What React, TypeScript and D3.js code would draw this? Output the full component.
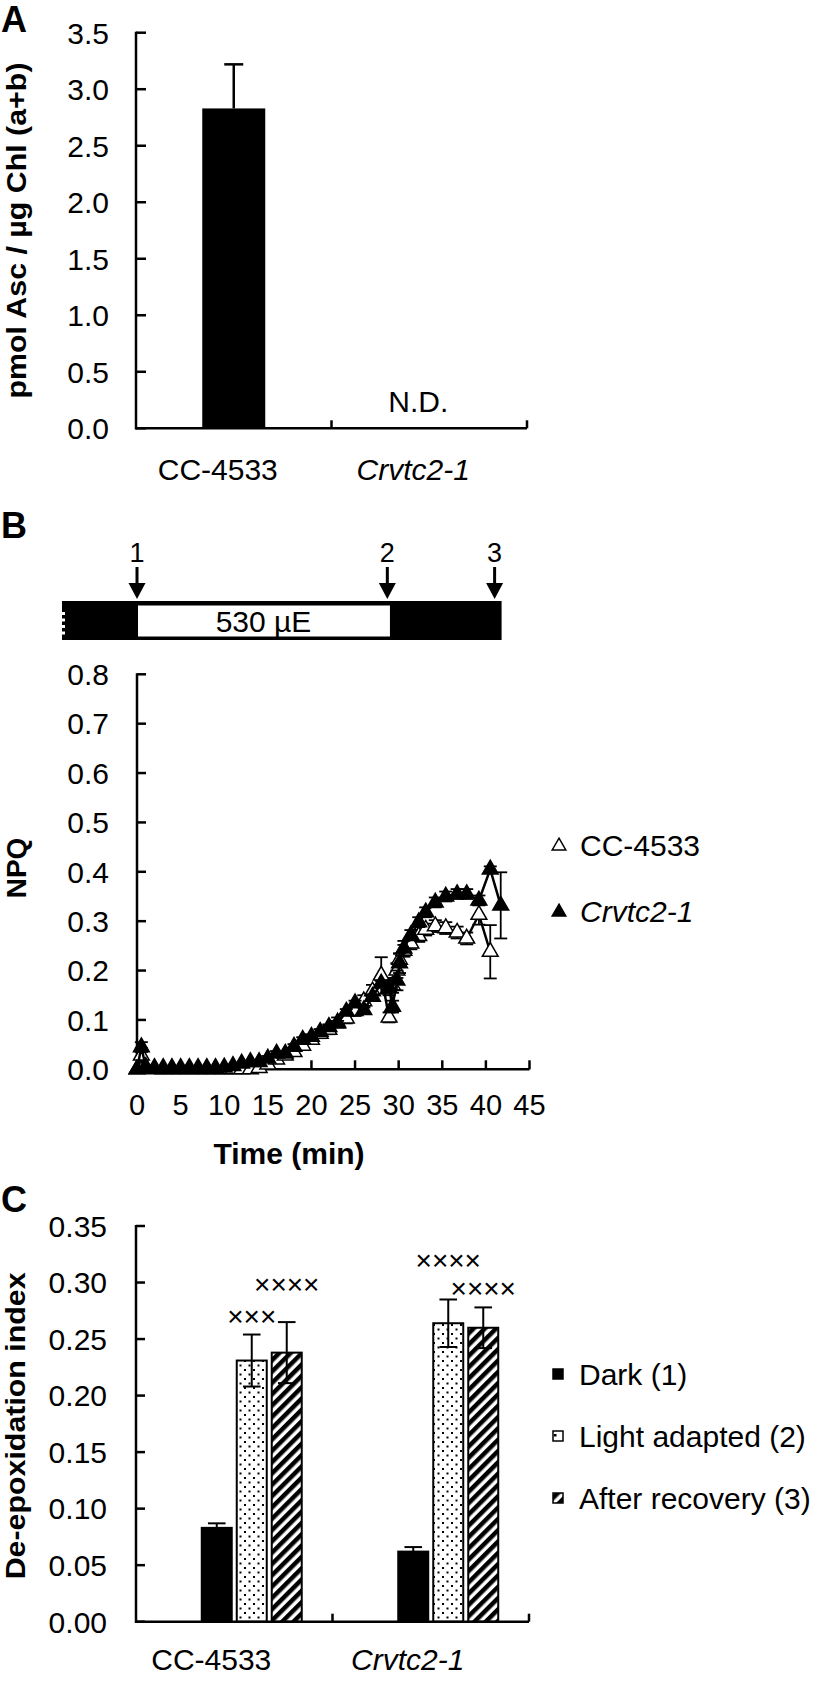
import * as d3 from "d3";

const FONT = "'Liberation Sans', Arial, Helvetica, sans-serif";

// ---------- Panel A: ascorbate content
const strains = ["CC-4533", "Crvtc2-1"];
const ascMean: (number | null)[] = [2.83, null];
const ascSd: (number | null)[] = [0.39, null];
const ascTicks = [0, 0.5, 1.0, 1.5, 2.0, 2.5, 3.0, 3.5];

// ---------- Panel B: NPQ time course
const npqTime = [0, 0.5, 1, 2, 3, 4, 5, 6, 7, 8, 9, 10, 11, 12, 13, 14, 15, 16, 17, 18, 19, 20, 21, 22, 23, 24, 25, 26, 27, 28, 28.9, 29.3, 29.8, 30.1, 30.6, 31.4, 32.3, 33.1, 34.2, 35.4, 36.7, 37.8, 39.2, 40.5, 41.7];
const npqWT = [0, 0.028, 0.002, 0, 0, 0, 0, 0, 0, 0, 0, 0, 0, 0, 0, 0.003, 0.010, 0.020, 0.028, 0.035, 0.048, 0.060, 0.072, 0.080, 0.095, 0.103, 0.118, 0.138, 0.158, 0.190, 0.105, 0.170, 0.200, 0.222, 0.240, 0.255, 0.270, 0.283, 0.290, 0.286, 0.277, 0.265, 0.313, 0.238];
const npqWTSd = [0, 0.015, 0.003, 0.002, 0.002, 0.002, 0.002, 0.002, 0.002, 0.002, 0.002, 0.002, 0.002, 0.002, 0.002, 0.004, 0.005, 0.006, 0.006, 0.007, 0.008, 0.008, 0.009, 0.009, 0.010, 0.010, 0.010, 0.012, 0.013, 0.037, 0.010, 0.015, 0.015, 0.012, 0.012, 0.012, 0.012, 0.012, 0.012, 0.012, 0.012, 0.012, 0.020, 0.054];
const npqVtc = [0, 0.045, 0.005, 0.003, 0.003, 0.003, 0.003, 0.003, 0.003, 0.003, 0.003, 0.004, 0.007, 0.012, 0.015, 0.015, 0.022, 0.032, 0.032, 0.046, 0.060, 0.066, 0.076, 0.086, 0.093, 0.117, 0.134, 0.120, 0.147, 0.174, 0.165, 0.127, 0.180, 0.215, 0.245, 0.272, 0.298, 0.318, 0.338, 0.350, 0.355, 0.355, 0.342, 0.405, 0.332];
const npqVtcSd = [0, 0.010, 0.003, 0.002, 0.002, 0.002, 0.002, 0.002, 0.002, 0.002, 0.002, 0.002, 0.002, 0.002, 0.002, 0.002, 0.005, 0.005, 0.005, 0.005, 0.005, 0.005, 0.005, 0.005, 0.005, 0.005, 0.005, 0.005, 0.005, 0.005, 0.015, 0.012, 0.020, 0.020, 0.015, 0.010, 0.010, 0.010, 0.010, 0.010, 0.010, 0.010, 0.010, 0.006, 0.067];
const npqTicks = [0, 0.1, 0.2, 0.3, 0.4, 0.5, 0.6, 0.7, 0.8];
const timeTicks = [0, 5, 10, 15, 20, 25, 30, 35, 40, 45];
const stripStart = -8.6;
const stripEnd = 41.8;
const lightOn = 0;
const lightOff = 29;
const sampleTimes = [0, 28.7, 41];
const sampleLabels = ["1", "2", "3"];

// ---------- Panel C: de-epoxidation index
const conditions = ["Dark (1)", "Light adapted (2)", "After recovery (3)"];
const deDark = [0.083, 0.062];
const deDarkSd = [0.004, 0.004];
const deLight = [0.231, 0.264];
const deLightSd = [0.023, 0.021];
const deRecovery = [0.238, 0.26];
const deRecoverySd = [0.027, 0.018];
const lightMarks = ["×××", "××××"];
const lightMarkY = [0.27, 0.32];
const recoveryMarks = ["××××", "××××"];
const recoveryMarkY = [0.299, 0.295];
const deTicks = [0, 0.05, 0.1, 0.15, 0.2, 0.25, 0.3, 0.35];

const AXIS_W = 2.5;

export default function App() {
  // ---- A
  const aX = d3.scaleBand<string>().domain(strains).range([136, 527]);
  const aY = d3.scaleLinear().domain([0, 3.5]).range([428.3, 32.7]);
  const aBarW = 63;

  // ---- B
  const bX = d3.scaleLinear().domain([0, 45]).range([137, 529.5]);
  const bY = d3.scaleLinear().domain([0, 0.8]).range([1069.3, 674.3]);
  const line = d3.line<number>().x((_, i) => bX(npqTime[i])).y((d) => bY(d));
  const tri = d3.symbol().type(d3.symbolTriangle).size(108)() as string;
  const triLegend = d3.symbol().type(d3.symbolTriangle).size(80)() as string;
  const stripTop = 601;
  const stripBot = 640;

  const npqSeries = [
    { name: "CC-4533", values: npqWT, sd: npqWTSd, fill: "#fff", italic: false },
    { name: "Crvtc2-1", values: npqVtc, sd: npqVtcSd, fill: "#000", italic: true },
  ];

  // ---- C
  const cX = d3.scaleBand<string>().domain(strains).range([136, 529]);
  const cInner = d3
    .scaleBand<string>()
    .domain(["", ...conditions])
    .range([0, cX.bandwidth()])
    .paddingInner(0.143)
    .paddingOuter(0.879);
  const cY = d3.scaleLinear().domain([0, 0.35]).range([1621.7, 1226]);
  const deSeries = [
    { name: conditions[0], values: deDark, sd: deDarkSd, fill: "#000", marks: null as string[] | null, markY: null as number[] | null },
    { name: conditions[1], values: deLight, sd: deLightSd, fill: "url(#dots)", marks: lightMarks, markY: lightMarkY },
    { name: conditions[2], values: deRecovery, sd: deRecoverySd, fill: "url(#stripes)", marks: recoveryMarks, markY: recoveryMarkY },
  ];

  const fmt1 = d3.format(".1f");
  const fmt2 = d3.format(".2f");

  return (
    <svg
      width={816}
      height={1692}
      style={{ position: "absolute", left: 0, top: 0, background: "#fff" }}
      fontFamily={FONT}
    >
      <defs>
        <pattern id="dots" width="9" height="9" patternUnits="userSpaceOnUse">
          <rect width="9" height="9" fill="#fff" />
          <rect x="1" y="1" width="2" height="2" fill="#000" />
          <rect x="5.5" y="5.5" width="2" height="2" fill="#000" />
        </pattern>
        <pattern id="stripes" width="8" height="8" patternUnits="userSpaceOnUse" patternTransform="rotate(45)">
          <rect width="8" height="8" fill="#fff" />
          <rect width="4.5" height="8" fill="#000" />
        </pattern>
        <pattern id="dotsLegend" width="10" height="10" patternUnits="userSpaceOnUse">
          <rect width="10" height="10" fill="#fff" />
          <rect x="4" y="4" width="2.5" height="2.5" fill="#000" />
        </pattern>
      </defs>

      {/* ================= Panel A ================= */}
      <text x={1} y={32} fontSize={36} fontWeight="bold">A</text>
      <text
        transform={`translate(26,${(aY(0) + aY(3.5)) / 2}) rotate(-90)`}
        textAnchor="middle"
        fontSize={28}
        fontWeight="bold"
        textLength={336}
        lengthAdjust="spacingAndGlyphs"
      >
        pmol Asc / µg Chl (a+b)
      </text>
      {ascTicks.map((t) => (
        <g key={t}>
          <line x1={136} x2={146} y1={aY(t)} y2={aY(t)} stroke="#000" strokeWidth={AXIS_W} />
          <text x={109} y={aY(t) + 10.8} textAnchor="end" fontSize={30}>{fmt1(t)}</text>
        </g>
      ))}
      {strains.map((s, i) => {
        const cx = (aX(s) as number) + aX.bandwidth() / 2;
        const v = ascMean[i];
        const sd = ascSd[i];
        return (
          <g key={s}>
            {v !== null && sd !== null ? (
              <>
                <line x1={cx} x2={cx} y1={aY(v)} y2={aY(v + sd)} stroke="#000" strokeWidth={2.5} />
                <line x1={cx - 9.5} x2={cx + 9.5} y1={aY(v + sd)} y2={aY(v + sd)} stroke="#000" strokeWidth={2.5} />
                <rect x={cx - aBarW / 2} y={aY(v)} width={aBarW} height={aY(0) - aY(v)} fill="#000" />
              </>
            ) : (
              <text x={cx - 11} y={aY(0) - 16} textAnchor="middle" fontSize={30}>N.D.</text>
            )}
            <text
              x={cx - 16}
              y={480}
              textAnchor="middle"
              fontSize={30}
              fontStyle={i === 1 ? "italic" : "normal"}
            >
              {s}
            </text>
            <line
              x1={(aX(s) as number) + aX.bandwidth()}
              x2={(aX(s) as number) + aX.bandwidth()}
              y1={aY(0)}
              y2={aY(0) - 8}
              stroke="#000"
              strokeWidth={AXIS_W}
            />
          </g>
        );
      })}
      <line x1={136} x2={136} y1={aY(3.5) - 1} y2={aY(0) + 1} stroke="#000" strokeWidth={AXIS_W} />
      <line x1={135} x2={527} y1={aY(0)} y2={aY(0)} stroke="#000" strokeWidth={AXIS_W} />

      {/* ================= Panel B ================= */}
      <text x={1} y={538} fontSize={36} fontWeight="bold">B</text>
      {/* light regime strip */}
      <rect x={bX(stripStart)} y={stripTop} width={bX(stripEnd) - bX(stripStart)} height={stripBot - stripTop} fill="#000" />
      <rect x={bX(lightOn) + 1} y={stripTop + 4.5} width={bX(lightOff) - bX(lightOn) - 1} height={stripBot - stripTop - 8} fill="#fff" />
      {[612, 618.5, 625, 631.5].map((y) => (
        <rect key={y} x={bX(stripStart)} y={y} width={3} height={3} fill="#fff" />
      ))}
      <text x={(bX(lightOn) + bX(lightOff)) / 2} y={632} textAnchor="middle" fontSize={30}>530 µE</text>
      {sampleTimes.map((t, i) => (
        <g key={t}>
          <text x={bX(t)} y={562} textAnchor="middle" fontSize={27}>{sampleLabels[i]}</text>
          <line x1={bX(t)} x2={bX(t)} y1={567} y2={588} stroke="#000" strokeWidth={3} />
          <path d={`M${bX(t) - 8.5},${583} L${bX(t) + 8.5},${583} L${bX(t)},${599} Z`} fill="#000" />
        </g>
      ))}

      <text
        transform={`translate(26,868) rotate(-90)`}
        textAnchor="middle"
        fontSize={28}
        fontWeight="bold"
      >
        NPQ
      </text>
      {npqTicks.map((t) => (
        <g key={t}>
          <line x1={137} x2={146} y1={bY(t)} y2={bY(t)} stroke="#000" strokeWidth={AXIS_W} />
          <text x={109} y={bY(t) + 10.8} textAnchor="end" fontSize={30}>{fmt1(t)}</text>
        </g>
      ))}
      {timeTicks.map((t) => (
        <g key={t}>
          {t > 0 && <line x1={bX(t)} x2={bX(t)} y1={bY(0)} y2={bY(0) - 9} stroke="#000" strokeWidth={AXIS_W} />}
          <text x={bX(t)} y={1115} textAnchor="middle" fontSize={29}>{t}</text>
        </g>
      ))}
      <line x1={137} x2={137} y1={bY(0.8) - 1} y2={bY(0) + 1} stroke="#000" strokeWidth={AXIS_W} />
      <line x1={136} x2={bX(45)} y1={bY(0)} y2={bY(0)} stroke="#000" strokeWidth={AXIS_W} />
      <text x={289} y={1164} textAnchor="middle" fontSize={30} fontWeight="bold">Time (min)</text>

      {npqSeries.map((s) => (
        <g key={s.name}>
          <path d={line(s.values) as string} fill="none" stroke="#000" strokeWidth={2.5} />
          {s.values.map((v, i) => {
            const x = bX(npqTime[i]);
            const e = s.sd[i];
            if (e < 0.004) return null;
            return (
              <g key={i} stroke="#000" strokeWidth={1.8}>
                <line x1={x} x2={x} y1={bY(v - e)} y2={bY(v + e)} />
                <line x1={x - 6.5} x2={x + 6.5} y1={bY(v + e)} y2={bY(v + e)} />
                <line x1={x - 6.5} x2={x + 6.5} y1={bY(v - e)} y2={bY(v - e)} />
              </g>
            );
          })}
          {s.values.map((v, i) => (
            <path
              key={i}
              d={tri}
              transform={`translate(${bX(npqTime[i])},${bY(v)})`}
              fill={s.fill}
              stroke="#000"
              strokeWidth={1.5}
            />
          ))}
        </g>
      ))}
      {npqSeries.map((s, i) => (
        <g key={s.name} transform={`translate(0,${i * 66})`}>
          <path d={triLegend} transform="translate(559,846)" fill={s.fill} stroke="#000" strokeWidth={1.5} />
          <text x={580} y={856} fontSize={30} fontStyle={s.italic ? "italic" : "normal"}>{s.name}</text>
        </g>
      ))}

      {/* ================= Panel C ================= */}
      <text x={1} y={1212} fontSize={36} fontWeight="bold">C</text>
      <text
        transform={`translate(25,${(cY(0) + cY(0.35)) / 2 + 2}) rotate(-90)`}
        textAnchor="middle"
        fontSize={28}
        fontWeight="bold"
        textLength={307}
        lengthAdjust="spacingAndGlyphs"
      >
        De-epoxidation index
      </text>
      {deTicks.map((t) => (
        <g key={t}>
          <line x1={136} x2={145} y1={cY(t)} y2={cY(t)} stroke="#000" strokeWidth={AXIS_W} />
          <text x={107} y={cY(t) + 10.8} textAnchor="end" fontSize={30}>{fmt2(t)}</text>
        </g>
      ))}
      {strains.map((s, gi) => {
        const gx = cX(s) as number;
        return (
          <g key={s}>
            {deSeries.map((ser) => {
              const x0 = gx + (cInner(ser.name) as number);
              const w = cInner.bandwidth();
              const v = ser.values[gi];
              const e = ser.sd[gi];
              const cx = x0 + w / 2;
              return (
                <g key={ser.name}>
                  <rect x={x0} y={cY(v)} width={w} height={cY(0) - cY(v)} fill={ser.fill} stroke="#000" strokeWidth={2} />
                  <g stroke="#000" strokeWidth={2}>
                    <line x1={cx} x2={cx} y1={cY(v - e)} y2={cY(v + e)} />
                    <line x1={cx - 8.8} x2={cx + 8.8} y1={cY(v + e)} y2={cY(v + e)} />
                    <line x1={cx - 8.8} x2={cx + 8.8} y1={cY(v - e)} y2={cY(v - e)} />
                  </g>
                  {ser.marks && ser.markY && (
                    <text x={cx} y={cY(ser.markY[gi]) + 10} textAnchor="middle" fontSize={28}>
                      {ser.marks[gi]}
                    </text>
                  )}
                </g>
              );
            })}
            <text
              x={gx + cX.bandwidth() / 2 - 23}
              y={1670}
              textAnchor="middle"
              fontSize={30}
              fontStyle={gi === 1 ? "italic" : "normal"}
            >
              {s}
            </text>
            <line
              x1={gx + cX.bandwidth()}
              x2={gx + cX.bandwidth()}
              y1={cY(0)}
              y2={cY(0) - 8}
              stroke="#000"
              strokeWidth={AXIS_W}
            />
          </g>
        );
      })}
      <line x1={136} x2={136} y1={cY(0.35) - 1} y2={cY(0) + 1} stroke="#000" strokeWidth={AXIS_W} />
      <line x1={135} x2={529} y1={cY(0)} y2={cY(0)} stroke="#000" strokeWidth={AXIS_W} />

      {deSeries.map((ser, i) => {
        const cy = 1374 + i * 62;
        const fill = i === 1 ? "url(#dotsLegend)" : ser.fill;
        return (
          <g key={ser.name}>
            <rect x={553} y={cy - 5} width={10} height={10} fill={fill} stroke="#000" strokeWidth={1.5} />
            <text x={579} y={cy + 10.8} fontSize={30}>{ser.name}</text>
          </g>
        );
      })}
    </svg>
  );
}
